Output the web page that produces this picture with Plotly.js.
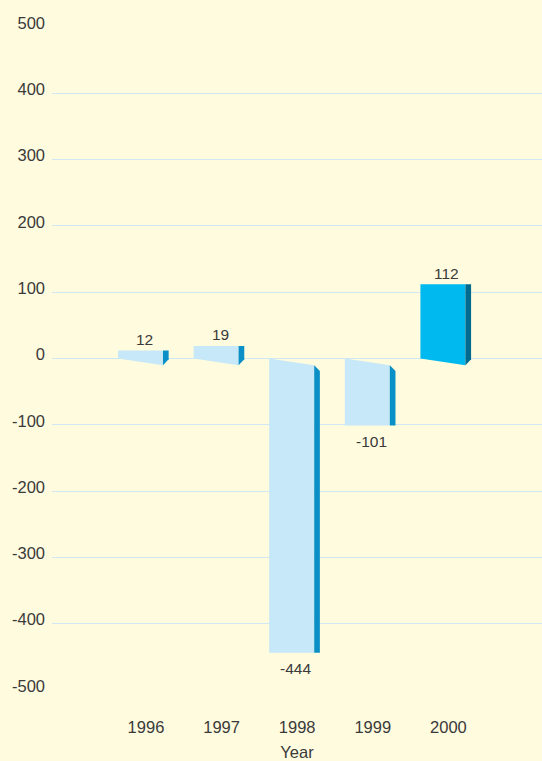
<!DOCTYPE html>
<html>
<head>
<meta charset="utf-8">
<script src="https://cdn.plot.ly/plotly-3.0.1.min.js"></script>
<style>html,body{margin:0;padding:0;background:#fffbdf;}#chart{width:542px;height:761px;}</style>
</head>
<body>
<div id="chart"></div>
<script>
// Data
const years = ['1996', '1997', '1998', '1999', '2000'];
const values = [12, 19, -444, -101, 112];
const yTickVals = [-500, -400, -300, -200, -100, 0, 100, 200, 300, 400, 500];
const yTickText = ['-500', '-400', '-300', '-200', '-100', '0', '100', '200', '300', '400', '500'];
const highlightYear = '2000';

// Styles / geometry
const FRONT_L = -0.37, FRONT_R = 0.225, SIDE_R = 0.30; // in category units
const SLANT = 10; // perspective drop of the base edge, in value units
const SIDE_SLANT = 9;
const lightFront = '#c6e8f8', lightSide = '#0a90c6';
const hiFront = '#00b9ef', hiSide = '#006b8f';
const textColor = '#3a3a3a';
const font = 'Liberation Sans, Arial, sans-serif';

const traces = [];
years.forEach((yr, i) => {
  const v = values[i];
  const hi = yr === highlightYear;
  const xl = i + FRONT_L, xr = i + FRONT_R, xs = i + SIDE_R;
  let fx, fy, sx, sy;
  if (v >= 0) {
    fx = [xl, xr, xr, xl, xl];
    fy = [v, v, -SLANT, 0, v];
    sx = [xr, xs, xs, xr, xr];
    sy = [v, v, -SLANT + SIDE_SLANT, -SLANT, v];
  } else {
    fx = [xl, xr, xr, xl, xl];
    fy = [0, -SLANT, v, v, 0];
    sx = [xr, xs, xs, xr, xr];
    sy = [-SLANT, -SLANT - SIDE_SLANT, v, v, -SLANT];
  }
  traces.push({type: 'scatter', mode: 'lines', x: fx, y: fy, fill: 'toself',
    fillcolor: hi ? hiFront : lightFront, line: {width: 0, color: 'rgba(0,0,0,0)'},
    hoverinfo: 'skip', showlegend: false});
  traces.push({type: 'scatter', mode: 'lines', x: sx, y: sy, fill: 'toself',
    fillcolor: hi ? hiSide : lightSide, line: {width: 0, color: 'rgba(0,0,0,0)'},
    hoverinfo: 'skip', showlegend: false});
});

const annotations = years.map((yr, i) => ({
  x: i - 0.02, y: values[i], xref: 'x', yref: 'y', text: String(values[i]),
  showarrow: false, yanchor: 'middle', yshift: values[i] >= 0 ? 11 : -16,
  font: {family: font, size: 15.5, color: textColor}
}));

const layout = {
  width: 542, height: 761,
  margin: {l: 52, r: 0, t: 27, b: 71},
  paper_bgcolor: '#fffbdf', plot_bgcolor: '#fffbdf',
  showlegend: false,
  xaxis: {
    range: [-1.243, 5.238], tickvals: [0, 1, 2, 3, 4], ticktext: years,
    showgrid: false, zeroline: false, showline: false, ticks: '',
    ticklabelstandoff: 25,
    tickfont: {family: font, size: 16.5, color: textColor},
    title: {text: 'Year', font: {family: font, size: 16.5, color: textColor}, standoff: 13}
  },
  yaxis: {
    range: [-500, 500], tickvals: yTickVals, ticktext: yTickText,
    showgrid: true, gridcolor: '#cfe8f2', gridwidth: 1,
    zeroline: true, zerolinecolor: '#cfe8f2', zerolinewidth: 1,
    showline: false, ticks: '', ticklabelstandoff: 6, ticklabelshift: -4,
    tickfont: {family: font, size: 16.5, color: textColor}
  },
  annotations: annotations
};

Plotly.newPlot('chart', traces, layout, {displayModeBar: false, staticPlot: true});
</script>
</body>
</html>
